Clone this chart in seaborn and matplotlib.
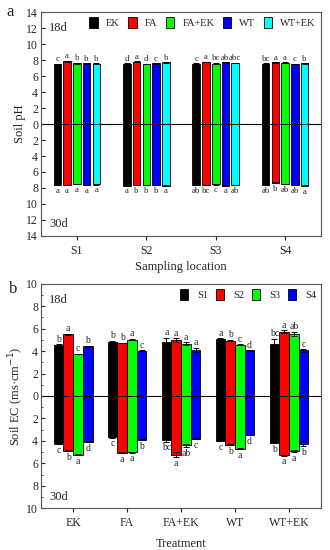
import matplotlib
matplotlib.use("Agg")
import matplotlib.pyplot as plt
import numpy as np
import pandas as pd
import seaborn as sns
from matplotlib.ticker import FuncFormatter, MultipleLocator

# ---- panel a: soil pH by sampling location ----
locations = ["S1", "S2", "S3", "S4"]
treatments = ["EK", "FA", "FA+EK", "WT", "WT+EK"]
ph_18d = [[7.50, 7.85, 7.60, 7.60, 7.55],
          [7.55, 7.80, 7.50, 7.60, 7.70],
          [7.55, 7.75, 7.55, 7.70, 7.65],
          [7.55, 7.70, 7.65, 7.50, 7.60]]
ph_18d_err = [[0.03, 0.05, 0.05, 0.03, 0.03],
              [0.03, 0.05, 0.03, 0.03, 0.05],
              [0.03, 0.05, 0.10, 0.03, 0.03],
              [0.03, 0.05, 0.05, 0.03, 0.03]]
ph_18d_sig = [["c", "a", "b", "b", "b"],
              ["d", "a", "d", "c", "b"],
              ["c", "a", "bc", "ab", "abc"],
              ["bc", "a", "a", "c", "b"]]
ph_30d = [[7.60, 7.60, 7.50, 7.60, 7.55],
          [7.70, 7.60, 7.60, 7.60, 7.70],
          [7.60, 7.60, 7.55, 7.70, 7.65],
          [7.60, 7.35, 7.50, 7.60, 7.70]]
ph_30d_err = [[0.03, 0.03, 0.03, 0.03, 0.03],
              [0.03, 0.03, 0.03, 0.03, 0.03],
              [0.03, 0.03, 0.03, 0.03, 0.03],
              [0.03, 0.08, 0.03, 0.03, 0.10]]
ph_30d_sig = [["a", "a", "a", "a", "a"],
              ["a", "b", "b", "b", "a"],
              ["ab", "bc", "c", "a", "ab"],
              ["ab", "b", "ab", "ab", "a"]]
trt_colors = ["#000000", "#ff0000", "#00ff00", "#0000ff", "#00ffff"]

# ---- panel b: soil EC by treatment ----
ec_treatments = ["EK", "FA", "FA+EK", "WT", "WT+EK"]
sites = ["S1", "S2", "S3", "S4"]
ec_18d = [[4.55, 5.50, 3.75, 4.45],
          [4.85, 4.73, 5.03, 4.05],
          [4.80, 5.00, 4.67, 4.14],
          [5.12, 4.94, 4.59, 4.06],
          [4.64, 5.74, 5.53, 4.06]]
ec_18d_err = [[0.05, 0.05, 0.03, 0.05],
              [0.08, 0.03, 0.05, 0.03],
              [0.40, 0.15, 0.10, 0.18],
              [0.03, 0.05, 0.03, 0.03],
              [0.45, 0.12, 0.18, 0.10]]
ec_18d_sig = [["b", "a", "c", "b"],
              ["b", "b", "a", "c"],
              ["a", "a", "a", "a"],
              ["a", "b", "c", "d"],
              ["bc", "a", "ab", "c"]]
ec_30d = [[4.24, 4.87, 5.25, 4.06],
          [3.67, 5.07, 5.01, 3.88],
          [3.91, 5.22, 4.39, 3.82],
          [3.97, 4.33, 4.69, 3.49],
          [4.15, 5.28, 4.90, 4.24]]
ec_30d_err = [[0.03, 0.03, 0.05, 0.03],
              [0.03, 0.05, 0.03, 0.03],
              [0.15, 0.22, 0.15, 0.05],
              [0.03, 0.03, 0.03, 0.03],
              [0.05, 0.05, 0.10, 0.22]]
ec_30d_sig = [["c", "b", "a", "d"],
              ["c", "a", "a", "b"],
              ["bc", "a", "ab", "c"],
              ["c", "b", "a", "d"],
              ["b", "a", "a", "b"]]
site_colors = ["#000000", "#ff0000", "#00ff00", "#0000ff"]


def long_frame(groups, hues, up, down):
    rows = []
    for i, g in enumerate(groups):
        for j, h in enumerate(hues):
            rows.append({"group": g, "hue": h, "up": up[i][j], "down": -down[i][j]})
    return pd.DataFrame(rows)


def draw_bars(ax, df, col, palette, width, gap, legend):
    before = len(ax.patches)
    sns.barplot(data=df, x="group", y=col, hue="hue", palette=palette,
                width=width, gap=gap, edgecolor="black", linewidth=0.6,
                errorbar=None, legend=legend, ax=ax, saturation=1)
    bars = [p for p in ax.patches[before:] if p.get_width() > 0]
    return sorted(bars, key=lambda p: p.get_x())


def annotate(ax, bars, vals, errs, sigs, sign, pad, fs):
    flat_v = [v for row in vals for v in row]
    flat_e = [e for row in errs for e in row]
    flat_s = [s for row in sigs for s in row]
    for p, v, e, s in zip(bars, flat_v, flat_e, flat_s):
        xc = p.get_x() + p.get_width() / 2
        ax.errorbar(xc, sign * v, yerr=e, fmt="none", ecolor="black",
                    elinewidth=0.7, capsize=2, capthick=0.7)
        ax.text(xc, sign * (v + e + pad), s, ha="center",
                va="bottom" if sign > 0 else "top", fontsize=fs)


sns.set_style("ticks")
plt.rcParams["font.family"] = ["Liberation Serif", "DejaVu Serif"]
plt.rcParams["axes.linewidth"] = 0.8

fig = plt.figure(figsize=(3.3, 5.5), dpi=100)
ax1 = fig.add_axes([0.124, 0.571, 0.849, 0.407])
ax2 = fig.add_axes([0.124, 0.076, 0.849, 0.408])

legend_kw = dict(frameon=False, title=None, fontsize=7.5, handlelength=0.8,
                 handleheight=1.2, handletextpad=0.8, columnspacing=0.8,
                 bbox_to_anchor=(1.0, 1.0), borderaxespad=0.1)

# panel a
df_a = long_frame(locations, treatments, ph_18d, ph_30d)
bars_up = draw_bars(ax1, df_a, "up", trt_colors, 0.7, 0.22, True)
bars_dn = draw_bars(ax1, df_a, "down", trt_colors, 0.7, 0.22, False)
annotate(ax1, bars_up, ph_18d, ph_18d_err, ph_18d_sig, 1, 0.05, 6.3)
annotate(ax1, bars_dn, ph_30d, ph_30d_err, ph_30d_sig, -1, 0.2, 6.3)
ax1.set_ylim(-14, 14)
ax1.yaxis.set_major_locator(MultipleLocator(2))
ax1.set_xlabel("Sampling location", fontsize=9, labelpad=3)
ax1.set_ylabel("Soil pH", fontsize=9, labelpad=0)
sns.move_legend(ax1, "upper right", ncol=5, **legend_kw)
ax1.text(0.03, 0.955, "18d", transform=ax1.transAxes, fontsize=9, va="top")
ax1.text(0.03, 0.025, "30d", transform=ax1.transAxes, fontsize=9, va="bottom")
ax1.text(-0.125, 1.0, "a", transform=ax1.transAxes, fontsize=12, va="center")

# panel b
df_b = long_frame(ec_treatments, sites, ec_18d, ec_30d)
bars_up = draw_bars(ax2, df_b, "up", site_colors, 0.72, 0.0, True)
bars_dn = draw_bars(ax2, df_b, "down", site_colors, 0.72, 0.0, False)
annotate(ax2, bars_up, ec_18d, ec_18d_err, ec_18d_sig, 1, 0.05, 7)
annotate(ax2, bars_dn, ec_30d, ec_30d_err, ec_30d_sig, -1, 0.15, 7)
ax2.set_ylim(-10, 10)
ax2.yaxis.set_major_locator(MultipleLocator(2))
ax2.yaxis.set_minor_locator(MultipleLocator(1))
ax2.set_xlabel("Treatment", fontsize=9, labelpad=6)
ax2.set_ylabel("Soil EC (ms·cm$^{-1}$)", fontsize=9, labelpad=0)
sns.move_legend(ax2, "upper right", ncol=4, **legend_kw)
ax2.text(0.03, 0.955, "18d", transform=ax2.transAxes, fontsize=9, va="top")
ax2.text(0.03, 0.025, "30d", transform=ax2.transAxes, fontsize=9, va="bottom")
ax2.text(-0.115, 0.975, "b", transform=ax2.transAxes, fontsize=12, va="center")

for ax in (ax1, ax2):
    ax.axhline(0, color="black", linewidth=0.8, zorder=0.5)
    ax.yaxis.set_major_formatter(FuncFormatter(lambda v, _: f"{abs(v):g}"))
    ax.tick_params(axis="y", direction="in", labelsize=8.5, length=3, pad=2)
    ax.tick_params(axis="y", which="minor", direction="in", length=1.5)
    ax.tick_params(axis="x", direction="out", labelsize=8.5, length=3)
    for s in ax.spines.values():
        s.set_visible(True)
        s.set_color("#555555")

fig.savefig("out.png", dpi=100)
